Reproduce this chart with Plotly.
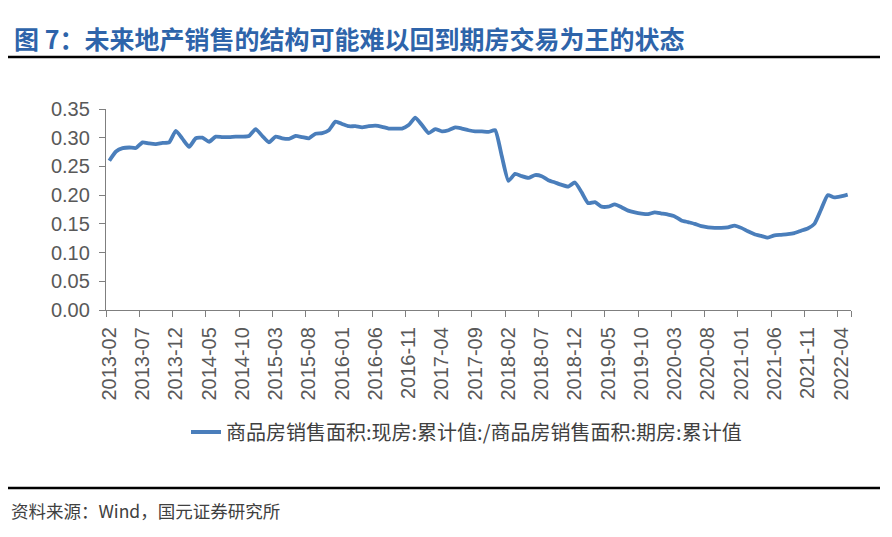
import pandas as pd
import plotly.graph_objects as go

# ---- data ----
months = list(pd.period_range("2013-02", "2022-05", freq="M").strftime("%Y-%m"))
ratio = [
    0.260, 0.276, 0.282, 0.283, 0.282, 0.292, 0.290, 0.289, 0.291, 0.292, 0.312,   # 2013
    0.298, 0.284, 0.299, 0.300, 0.293, 0.302, 0.301, 0.301, 0.302, 0.302, 0.303, 0.315,  # 2014
    0.303, 0.292, 0.302, 0.299, 0.298, 0.303, 0.301, 0.299, 0.307, 0.308, 0.313, 0.328,  # 2015
    0.324, 0.320, 0.320, 0.318, 0.320, 0.321, 0.319, 0.316, 0.316, 0.316, 0.322, 0.335,  # 2016
    0.322, 0.308, 0.315, 0.311, 0.313, 0.318, 0.316, 0.313, 0.311, 0.311, 0.310, 0.313,  # 2017
    0.268, 0.225, 0.237, 0.233, 0.230, 0.235, 0.233, 0.226, 0.222, 0.218, 0.215, 0.222,  # 2018
    0.205, 0.186, 0.188, 0.180, 0.180, 0.184, 0.179, 0.173, 0.170, 0.168, 0.167, 0.170,  # 2019
    0.168, 0.166, 0.163, 0.156, 0.153, 0.150, 0.146, 0.144, 0.143, 0.143, 0.144, 0.147,  # 2020
    0.143, 0.137, 0.132, 0.129, 0.126, 0.130, 0.131, 0.132, 0.134, 0.138, 0.142, 0.150,  # 2021
    0.175, 0.200, 0.196, 0.198, 0.201,                                                   # 2022
]
series_name = "商品房销售面积:现房:累计值:/商品房销售面积:期房:累计值"
title_text = "图 7：未来地产销售的结构可能难以回到期房交易为王的状态"
source_text = "资料来源：Wind，国元证券研究所"
y_ticks = [0.00, 0.05, 0.10, 0.15, 0.20, 0.25, 0.30, 0.35]

# ---- layout geometry (window pixels; page body has an 8px offset) ----
W, H = 892, 537
OFF = 8
plot_left, plot_right, plot_top, plot_bottom = 106, 851, 109, 310
L = plot_left - OFF
R = W - (plot_right - OFF)
T = plot_top - OFF
B = H - (plot_bottom - OFF)
pw, ph = plot_right - plot_left, plot_bottom - plot_top


def px(x):
    return (x - plot_left) / pw


def py(y):
    return (plot_bottom - y) / ph


idx = list(range(len(months)))
label_idx = idx[::5]

fig = go.Figure()
fig.add_trace(go.Scatter(
    x=idx, y=ratio, mode="lines", name=series_name,
    line=dict(color="#4A7EBB", width=3.8, shape="spline", smoothing=0.5),
))

axis_col = "#7F7F7F"
tick_font = dict(family="Liberation Sans, Arial", size=20, color="#595959")

fig.update_layout(
    width=W, height=H,
    margin=dict(l=L, r=R, t=T, b=B),
    paper_bgcolor="white", plot_bgcolor="white",
    showlegend=True,
    legend=dict(
        orientation="h", x=px(186), y=py(432), xanchor="left", yanchor="middle",
        font=dict(family="Noto Sans CJK SC", size=20, color="#404040"),
        bgcolor="rgba(0,0,0,0)",
    ),
    xaxis=dict(
        range=[-0.5, len(months) - 0.5],
        tickmode="array", tickvals=label_idx, ticktext=[months[i] for i in label_idx],
        tickangle=-90, tickfont=tick_font, ticks="outside", ticklen=0,
        ticklabelstandoff=8,
        showline=True, linecolor=axis_col, linewidth=1.3,
        showgrid=False, zeroline=False,
        minor=dict(tickmode="array", tickvals=[i - 0.5 for i in idx[::5]] + [len(months) - 0.5],
                   ticks="outside", ticklen=6, tickcolor=axis_col, tickwidth=1.3, showgrid=False),
    ),
    yaxis=dict(
        range=[0, 0.35],
        tickmode="array", tickvals=y_ticks, ticktext=[f"{v:.2f}" for v in y_ticks],
        tickfont=tick_font, ticks="outside", ticklen=6, tickcolor=axis_col, tickwidth=1.3,
        ticklabelstandoff=5,
        showline=True, linecolor=axis_col, linewidth=1.3,
        showgrid=False, zeroline=False,
    ),
    annotations=[
        dict(text=f"<b>{title_text}</b>", xref="paper", yref="paper",
             x=px(12), y=py(38), xanchor="left", yanchor="middle", showarrow=False,
             font=dict(family="Noto Sans CJK SC", size=25, color="#2E64AA")),
        dict(text=source_text, xref="paper", yref="paper",
             x=px(9), y=py(510), xanchor="left", yanchor="middle", showarrow=False,
             font=dict(family="Noto Sans CJK SC", size=17.5, color="#404040")),
    ],
    shapes=[
        dict(type="line", xref="paper", yref="paper", x0=px(8), x1=px(880),
             y0=py(57), y1=py(57), line=dict(color="black", width=2.5)),
        dict(type="line", xref="paper", yref="paper", x0=px(8), x1=px(880),
             y0=py(488), y1=py(488), line=dict(color="black", width=2.5)),
    ],
)

fig.write_html("out.html")
